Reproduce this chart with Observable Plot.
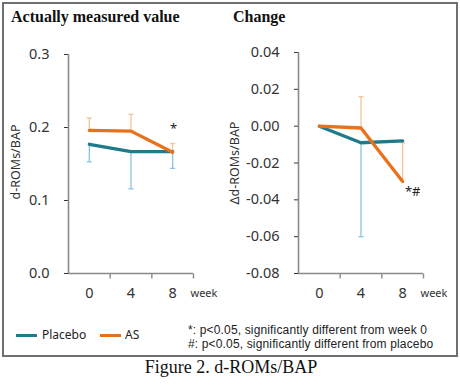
<!DOCTYPE html>
<html><head><meta charset="utf-8">
<script src="https://cdn.jsdelivr.net/npm/d3@7"></script>
<script src="https://cdn.jsdelivr.net/npm/@observablehq/plot@0.6"></script>
<style>
body{margin:0;background:#fff;}
#wrap{position:relative;width:460px;height:388px;overflow:hidden;font-family:"Noto Sans",sans-serif;color:#222;background:#fff;}
#frame{position:absolute;left:2px;top:2px;width:452px;height:351px;border:2px solid #707070;}
.title{position:absolute;font-family:"Liberation Serif","Times New Roman",serif;font-weight:bold;font-size:16px;line-height:15px;color:#111;white-space:nowrap;}
.plot{position:absolute;top:0;}
.ylab{position:absolute;width:120px;text-align:center;font-size:12.5px;line-height:14px;color:#333;transform:rotate(-90deg);white-space:nowrap;}
.sw{position:absolute;height:3px;width:21px;}
.lt{position:absolute;font-size:12px;line-height:14px;white-space:nowrap;}
#notes{position:absolute;left:188px;top:324px;font-family:"Liberation Sans",Arial,sans-serif;font-size:12px;letter-spacing:0.15px;line-height:13.5px;white-space:nowrap;}
#caption{position:absolute;left:0;width:462px;text-align:center;top:357px;font-family:"Liberation Serif","Times New Roman",serif;font-size:18px;line-height:20px;color:#111;}
</style></head>
<body>
<div id="wrap">
  <div id="frame"></div>
  <div id="left" class="plot" style="left:0"></div>
  <div id="right" class="plot" style="left:230px"></div>
  <div class="title" style="left:11px;top:9px" id="t1"></div>
  <div class="title" style="left:233px;top:9px" id="t2"></div>
  <div class="ylab" style="left:-44px;top:155px" id="yl1"></div>
  <div class="ylab" style="left:175px;top:156px" id="yl2"></div>
  <div class="sw" style="left:16px;top:334px;background:#1f7a8c"></div>
  <div class="lt" style="left:42px;top:328px" id="lg1"></div>
  <div class="sw" style="left:100px;top:334px;background:#e8711a"></div>
  <div class="lt" style="left:125px;top:328px" id="lg2"></div>
  <div id="notes"></div>
  <div id="caption"></div>
</div>
<script>
// ---- data ----
const weeks = [0, 4, 8];
const seriesNames = ["Placebo", "AS"];
const placeboMean = [0.177, 0.167, 0.167];
const placeboErr = [0.153, 0.116, 0.144];
const asMean = [0.196, 0.195, 0.166];
const asErr = [0.213, 0.218, 0.178];
const placeboChange = [0, -0.009, -0.008];
const placeboChangeErr = [null, -0.060, null];
const asChange = [0, -0.001, -0.030];
const asChangeErr = [null, 0.016, -0.009];
const leftTicks = [0, 0.1, 0.2, 0.3];
const rightTicks = [-0.08, -0.06, -0.04, -0.02, 0, 0.02, 0.04];
const bandEdges = [-2, 2, 6, 10];
const leftNotes = [{week: 8, value: 0.198, text: "*"}];
const rightNotes = [{week: 8, value: -0.0357, text: "*#"}];
const titles = ["Actually measured value", "Change"];
const yLabels = ["d-ROMs/BAP", "Δd-ROMs/BAP"];
const xUnit = "week";
const noteLines = ["*: p<0.05, significantly different from week 0", "#: p<0.05, significantly different from placebo"];
const captionText = "Figure 2. d-ROMs/BAP";

const colors = {Placebo: "#1f7a8c", AS: "#e8711a"};
const light = {Placebo: "#86c6dc", AS: "#f4c596"};
const axisColor = "#8a8a8a";

function rows(pm, pe, am, ae) {
  const out = [];
  weeks.forEach((w, i) => out.push({series: "Placebo", week: w, mean: pm[i], err: pe[i]}));
  weeks.forEach((w, i) => out.push({series: "AS", week: w, mean: am[i], err: ae[i]}));
  return out;
}
const hCap = {draw(ctx) { ctx.moveTo(-2.5, 0); ctx.lineTo(2.5, 0); }};
const vTick = {draw(ctx) { ctx.moveTo(0, 0); ctx.lineTo(0, 5); }};

function panel(data, domain, ticks, fmt, notes, noteDx, mt) {
  const errs = data.filter(d => d.err != null);
  return Plot.plot({
    width: 230, height: 300,
    marginLeft: 68, marginRight: 37, marginTop: mt, marginBottom: 300 - 273,
    style: {background: "transparent", fontFamily: "Noto Sans, sans-serif", fontSize: "14.5px", color: "#333", overflow: "visible"},
    x: {domain: [bandEdges[0], bandEdges[bandEdges.length - 1]], ticks: weeks, tickSize: 0, tickPadding: 14, tickFormat: d => String(d), label: null},
    y: {domain, ticks, tickSize: 4, tickPadding: 15, tickFormat: fmt, label: null},
    marks: [
      Plot.ruleX([bandEdges[0]], {y1: domain[0], y2: domain[1], stroke: axisColor, strokeWidth: 1.6}),
      Plot.ruleY([domain[0]], {x1: bandEdges[0], x2: bandEdges[bandEdges.length - 1], stroke: axisColor, strokeWidth: 1.6}),
      Plot.dot(bandEdges.slice(1), {x: d => d, y: domain[0], symbol: vTick, stroke: axisColor, strokeWidth: 1.4}),
      Plot.ruleX(errs, {x: "week", y1: "mean", y2: "err", stroke: d => light[d.series], strokeWidth: 1.3}),
      Plot.dot(errs, {x: "week", y: "err", symbol: hCap, stroke: d => light[d.series], strokeWidth: 1.3}),
      Plot.line(data, {x: "week", y: "mean", z: "series", stroke: d => colors[d.series], strokeWidth: 3.3}),
      Plot.text(notes, {x: "week", y: "value", text: "text", fontSize: 13, fill: "#222", dx: noteDx}),
      Plot.text([xUnit], {x: bandEdges[bandEdges.length - 1], y: domain[0], text: d => d, dx: -3, dy: 20, textAnchor: "start", fontSize: 11, fill: "#333"})
    ]
  });
}

const leftRows = rows(placeboMean, placeboErr, asMean, asErr);
const rightRows = rows(placeboChange, placeboChangeErr, asChange, asChangeErr);
document.getElementById("left").append(panel(leftRows, [0, 0.3], leftTicks, d => d.toFixed(1), leftNotes, 1, 54));
document.getElementById("right").append(panel(rightRows, [-0.08, 0.04], rightTicks, d => d.toFixed(2), rightNotes, 10, 52));

document.getElementById("t1").textContent = titles[0];
document.getElementById("t2").textContent = titles[1];
document.getElementById("yl1").textContent = yLabels[0];
document.getElementById("yl2").textContent = yLabels[1];
document.getElementById("lg1").textContent = seriesNames[0];
document.getElementById("lg2").textContent = seriesNames[1];
document.getElementById("notes").innerHTML = noteLines.map(t => `<div>${t.replace("<", "&lt;")}</div>`).join("");
document.getElementById("caption").textContent = captionText;
</script>
</body></html>
